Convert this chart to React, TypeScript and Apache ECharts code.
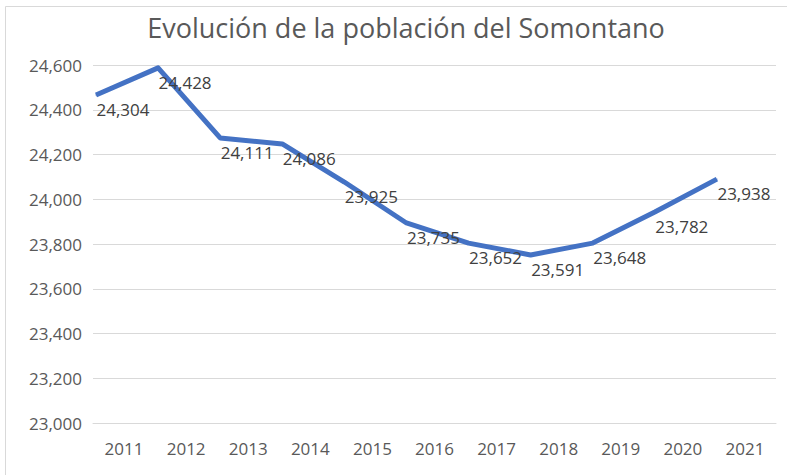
import React, { useEffect, useRef } from "react";
import * as echarts from "echarts";

const years = ["2011", "2012", "2013", "2014", "2015", "2016", "2017", "2018", "2019", "2020", "2021"];
// plotted line positions
const lineValues = [24466, 24587, 24274, 24247, 24077, 23894, 23804, 23751, 23804, 23943, 24090];
// data label texts shown next to each point
const labelValues = [24304, 24428, 24111, 24086, 23925, 23735, 23652, 23591, 23648, 23782, 23938];
const lineSlots = ["2011", "2012", "2013", "2014", "2015", "2016", "2017", "2018", "2019", "2020", "2021", "2022"];

const fmt = (v: number) => v.toLocaleString("en-US");

export default function App() {
  const ref = useRef<HTMLDivElement>(null);
  useEffect(() => {
    if (!ref.current) return;
    const chart = echarts.init(ref.current, null, { renderer: "svg" });
    const font = "'Open Sans', sans-serif";
    chart.setOption({
      animation: false,
      backgroundColor: "#ffffff",
      title: {
        text: "Evolución de la población del Somontano",
        left: 401,
        top: 9,
        textAlign: "center",
        textStyle: { fontFamily: font, fontSize: 27, fontWeight: "normal", color: "#595959" },
      },
      graphic: [
        {
          type: "rect",
          shape: { x: 5.5, y: 6.5, width: 900, height: 600 },
          style: { fill: "none", stroke: "#d9d9d9", lineWidth: 1 },
          silent: true,
        },
      ],
      grid: [
        { left: 93, right: 11, top: 65, bottom: 52 },
        { left: 96, right: 8, top: 65, bottom: 52 },
      ],
      xAxis: [
        {
          type: "category",
          gridIndex: 0,
          data: years,
          boundaryGap: true,
          axisLine: { show: true, lineStyle: { color: "#d9d9d9", width: 1 } },
          axisTick: { show: false },
          axisLabel: { fontFamily: font, fontSize: 17, color: "#595959", margin: 17 },
        },
        {
          type: "category",
          gridIndex: 1,
          data: lineSlots,
          boundaryGap: false,
          show: false,
        },
      ],
      yAxis: [
        {
          type: "value",
          gridIndex: 0,
          min: 23000,
          max: 24600,
          interval: 200,
          axisLine: { show: false },
          axisTick: { show: false },
          splitLine: { lineStyle: { color: "#d9d9d9", width: 1 } },
          axisLabel: { fontFamily: font, fontSize: 17, color: "#595959", margin: 11, formatter: (v: number) => fmt(v) },
        },
        {
          type: "value",
          gridIndex: 1,
          min: 23000,
          max: 24600,
          interval: 200,
          show: false,
        },
      ],
      series: [
        {
          type: "line",
          xAxisIndex: 1,
          yAxisIndex: 1,
          data: lineValues,
          symbol: "circle",
          symbolSize: 1,
          lineStyle: { color: "#4472c4", width: 5, join: "round" },
          itemStyle: { color: "#4472c4" },
          label: {
            show: true,
            position: [1, 15],
            align: "left",
            verticalAlign: "middle",
            fontFamily: font,
            fontSize: 17,
            color: "#404040",
            formatter: (p: any) => fmt(labelValues[p.dataIndex]),
          },
        },
      ],
    });
    return () => chart.dispose();
  }, []);
  return <div ref={ref} style={{ position: "fixed", left: 0, top: 0, width: 787, height: 475 }} />;
}
